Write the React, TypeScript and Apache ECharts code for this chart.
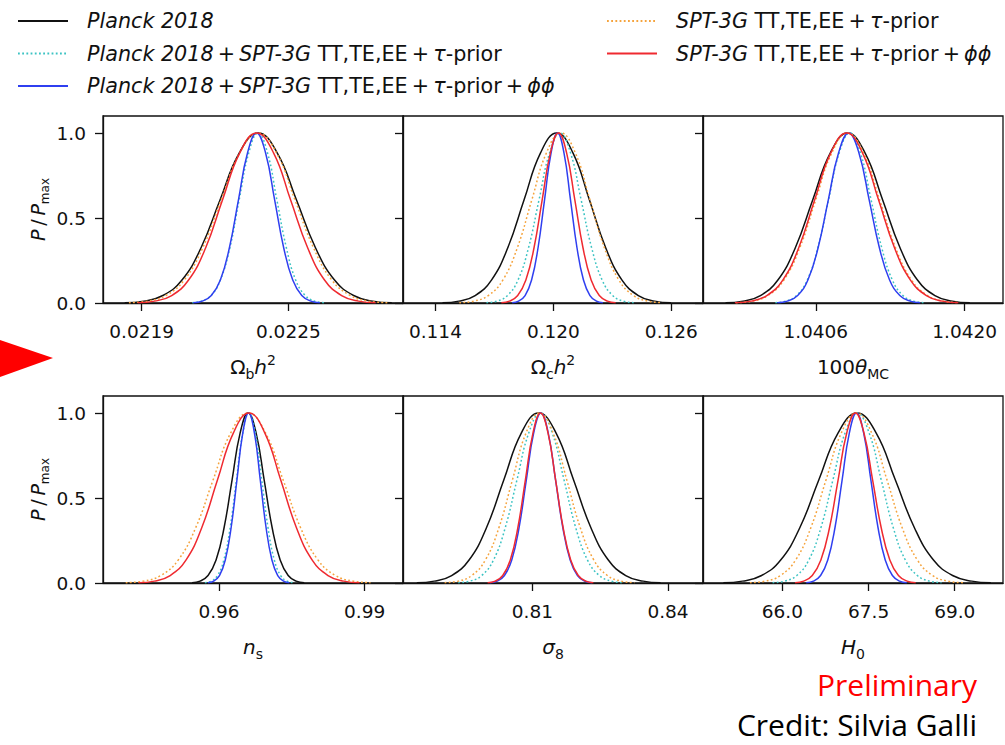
import React, { useEffect, useRef } from "react";
import * as echarts from "echarts";

// Heights (P/Pmax) at which each curve's x positions were read, left tail -> peak -> right tail
const levels = [0.002, 0.011, 0.044, 0.135, 0.325, 0.607, 0.882, 1, 0.882, 0.607, 0.325, 0.135, 0.044, 0.011, 0.002];

const seriesNames = [
  "Planck 2018",
  "Planck 2018+SPT-3G TT,TE,EE+τ-prior",
  "Planck 2018+SPT-3G TT,TE,EE+τ-prior+ϕϕ",
  "SPT-3G TT,TE,EE+τ-prior",
  "SPT-3G TT,TE,EE+τ-prior+ϕϕ",
];

// Ω_b h^2
const obPlanck = [0.021831, 0.021909, 0.021987, 0.022065, 0.022143, 0.022221, 0.022299, 0.022377, 0.022455, 0.022533, 0.022611, 0.022689, 0.022767, 0.022845, 0.022923];
const obP18Spt = [0.022107, 0.022145, 0.022184, 0.022222, 0.022261, 0.022299, 0.022338, 0.022376, 0.022415, 0.022453, 0.022492, 0.02253, 0.022569, 0.022607, 0.022646];
const obP18SptPP = [0.022111, 0.022148, 0.022185, 0.022222, 0.022259, 0.022296, 0.022333, 0.02237, 0.022407, 0.022444, 0.022481, 0.022518, 0.022555, 0.022592, 0.022629];
const obSpt = [0.021848, 0.021923, 0.021999, 0.022074, 0.02215, 0.022225, 0.022301, 0.022376, 0.022452, 0.022527, 0.022603, 0.022678, 0.022754, 0.022829, 0.022905];
const obSptPP = [0.021884, 0.021953, 0.022023, 0.022092, 0.022162, 0.022231, 0.022301, 0.02237, 0.02244, 0.022509, 0.022579, 0.022648, 0.022718, 0.022787, 0.022857];
const obRange = [0.021742, 0.022969];
const obTicks = [0.0219, 0.0225];

// Ω_c h^2
const ocPlanck = [0.11436, 0.11519, 0.11602, 0.11685, 0.11768, 0.11851, 0.11934, 0.12017, 0.121, 0.12183, 0.12266, 0.12349, 0.12432, 0.12515, 0.12598];
const ocP18Spt = [0.116595, 0.11713, 0.117665, 0.1182, 0.118735, 0.11927, 0.119805, 0.12034, 0.120875, 0.12141, 0.121945, 0.12248, 0.123015, 0.12355, 0.124085];
const ocP18SptPP = [0.1179, 0.11823, 0.11856, 0.11889, 0.11922, 0.11955, 0.11988, 0.12021, 0.12054, 0.12087, 0.1212, 0.12153, 0.12186, 0.12219, 0.12252];
const ocSpt = [0.115214, 0.115952, 0.11669, 0.117428, 0.118166, 0.118904, 0.119642, 0.12038, 0.121118, 0.121856, 0.122594, 0.123332, 0.12407, 0.124808, 0.125546];
const ocSptPP = [0.117355, 0.11777, 0.118185, 0.1186, 0.119015, 0.11943, 0.119845, 0.12026, 0.120675, 0.12109, 0.121505, 0.12192, 0.122335, 0.12275, 0.123165];
const ocRange = [0.11235, 0.12761];
const ocTicks = [0.114, 0.12, 0.126];

// 100 θ_MC
const thPlanck = [1.039752, 1.039916, 1.04008, 1.040244, 1.040408, 1.040572, 1.040736, 1.0409, 1.041064, 1.041228, 1.041392, 1.041556, 1.04172, 1.041884, 1.042048];
const thP18Spt = [1.04022, 1.04032, 1.04042, 1.04052, 1.04062, 1.04072, 1.04082, 1.04092, 1.04102, 1.04112, 1.04122, 1.04132, 1.04142, 1.04152, 1.04162];
const thP18SptPP = [1.040238, 1.040334, 1.04043, 1.040526, 1.040622, 1.040718, 1.040814, 1.04091, 1.041006, 1.041102, 1.041198, 1.041294, 1.04139, 1.041486, 1.041582];
const thSpt = [1.03985, 1.04, 1.04015, 1.0403, 1.04045, 1.0406, 1.04075, 1.0409, 1.04105, 1.0412, 1.04135, 1.0415, 1.04165, 1.0418, 1.04195];
const thSptPP = [1.03984, 1.03999, 1.04014, 1.04029, 1.04044, 1.04059, 1.04074, 1.04089, 1.04104, 1.04119, 1.04134, 1.04149, 1.04164, 1.04179, 1.04194];
const thRange = [1.03954, 1.04236];
const thTicks = [1.0406, 1.042];

// n_s
const nsPlanck = [0.95445, 0.9561, 0.95775, 0.9594, 0.96105, 0.9627, 0.96435, 0.966, 0.96765, 0.9693, 0.97095, 0.9726, 0.97425, 0.9759, 0.97755];
const nsP18Spt = [0.9571, 0.9584, 0.9597, 0.961, 0.9623, 0.9636, 0.9649, 0.9662, 0.9675, 0.9688, 0.9701, 0.9714, 0.9727, 0.974, 0.9753];
const nsP18SptPP = [0.9577, 0.9589, 0.9601, 0.9613, 0.9625, 0.9637, 0.9649, 0.9661, 0.9673, 0.9685, 0.9697, 0.9709, 0.9721, 0.9733, 0.9745];
const nsSpt = [0.9408, 0.9444, 0.948, 0.9516, 0.9552, 0.9588, 0.9624, 0.966, 0.9696, 0.9732, 0.9768, 0.9804, 0.984, 0.9876, 0.9912];
const nsSptPP = [0.94345, 0.9467, 0.94995, 0.9532, 0.95645, 0.9597, 0.96295, 0.9662, 0.96945, 0.9727, 0.97595, 0.9792, 0.98245, 0.9857, 0.98895];
const nsRange = [0.93612, 0.99789];
const nsTicks = [0.96, 0.99];

// σ_8
const s8Planck = [0.78445, 0.7883, 0.79215, 0.796, 0.79985, 0.8037, 0.80755, 0.8114, 0.81525, 0.8191, 0.82295, 0.8268, 0.83065, 0.8345, 0.83835];
const s8P18Spt = [0.7936, 0.7962, 0.7988, 0.8014, 0.804, 0.8066, 0.8092, 0.8118, 0.8144, 0.817, 0.8196, 0.8222, 0.8248, 0.8274, 0.83];
const s8P18SptPP = [0.800595, 0.80221, 0.803825, 0.80544, 0.807055, 0.80867, 0.810285, 0.8119, 0.813515, 0.81513, 0.816745, 0.81836, 0.819975, 0.82159, 0.823205];
const s8Spt = [0.7906, 0.7936, 0.7966, 0.7996, 0.8026, 0.8056, 0.8086, 0.8116, 0.8146, 0.8176, 0.8206, 0.8236, 0.8266, 0.8296, 0.8326];
const s8SptPP = [0.80011, 0.80178, 0.80345, 0.80512, 0.80679, 0.80846, 0.81013, 0.8118, 0.81347, 0.81514, 0.81681, 0.81848, 0.82015, 0.82182, 0.82349];
const s8Range = [0.78139, 0.84774];
const s8Ticks = [0.81, 0.84];

// H_0
const h0Planck = [64.973, 65.305, 65.638, 65.97, 66.303, 66.635, 66.968, 67.3, 67.633, 67.965, 68.298, 68.63, 68.963, 69.295, 69.628];
const h0P18Spt = [65.83, 66.04, 66.25, 66.46, 66.67, 66.88, 67.09, 67.3, 67.51, 67.72, 67.93, 68.14, 68.35, 68.56, 68.77];
const h0P18SptPP = [66.415, 66.54, 66.665, 66.79, 66.915, 67.04, 67.165, 67.29, 67.415, 67.54, 67.665, 67.79, 67.915, 68.04, 68.165];
const h0Spt = [65.435, 65.7, 65.965, 66.23, 66.495, 66.76, 67.025, 67.29, 67.555, 67.82, 68.085, 68.35, 68.615, 68.88, 69.145];
const h0SptPP = [66.22, 66.37, 66.52, 66.67, 66.82, 66.97, 67.12, 67.27, 67.42, 67.57, 67.72, 67.87, 68.02, 68.17, 68.32];
const h0Range = [64.618, 69.84];
const h0Ticks = [66.0, 67.5, 69.0];

const yTicks = [0, 0.5, 1.0];

const panels = [
  { curves: [obPlanck, obP18Spt, obP18SptPP, obSpt, obSptPP], range: obRange, ticks: obTicks, dec: 4, label: "{n|Ω}{sb|b}{i|h}{sp|2}" },
  { curves: [ocPlanck, ocP18Spt, ocP18SptPP, ocSpt, ocSptPP], range: ocRange, ticks: ocTicks, dec: 3, label: "{n|Ω}{sb|c}{i|h}{sp|2}" },
  { curves: [thPlanck, thP18Spt, thP18SptPP, thSpt, thSptPP], range: thRange, ticks: thTicks, dec: 4, label: "{n|100}{i|θ}{sb|MC}" },
  { curves: [nsPlanck, nsP18Spt, nsP18SptPP, nsSpt, nsSptPP], range: nsRange, ticks: nsTicks, dec: 2, label: "{i|n}{sb|s}" },
  { curves: [s8Planck, s8P18Spt, s8P18SptPP, s8Spt, s8SptPP], range: s8Range, ticks: s8Ticks, dec: 2, label: "{i|σ}{sb|8}" },
  { curves: [h0Planck, h0P18Spt, h0P18SptPP, h0Spt, h0SptPP], range: h0Range, ticks: h0Ticks, dec: 1, label: "{i|H}{sb|0}" },
];

const FONT = "DejaVu Sans";
const COLORS = ["#111111", "#3cc3c3", "#2f3ff0", "#f5a33c", "#ef2a30"];
const DOTTED = [false, true, false, true, false];

const P = "\u2009+\u2009";
const legendRich: Record<string, string> = {
  [seriesNames[0]]: "{i|Planck 2018}",
  [seriesNames[1]]: `{i|Planck 2018}{n|${P}}{i|SPT-3G}{n| TT,TE,EE${P}}{i|τ}{n|-prior}`,
  [seriesNames[2]]: `{i|Planck 2018}{n|${P}}{i|SPT-3G}{n| TT,TE,EE${P}}{i|τ}{n|-prior${P}}{i|ϕϕ}`,
  [seriesNames[3]]: `{i|SPT-3G}{n| TT,TE,EE${P}}{i|τ}{n|-prior}`,
  [seriesNames[4]]: `{i|SPT-3G}{n| TT,TE,EE${P}}{i|τ}{n|-prior${P}}{i|ϕϕ}`,
};

export default function App() {
  const ref = useRef<HTMLDivElement>(null);
  useEffect(() => {
    if (!ref.current) return;
    const chart = echarts.init(ref.current, undefined, { renderer: "svg" });

    const grids: any[] = [];
    const xAxes: any[] = [];
    const yAxes: any[] = [];
    const series: any[] = [];

    const mathRich = {
      n: { fontFamily: FONT, fontSize: 20, color: "#111", lineHeight: 28 },
      i: { fontFamily: FONT, fontSize: 20, fontStyle: "italic", color: "#111", lineHeight: 28 },
      sb: { fontFamily: FONT, fontSize: 14, color: "#111", verticalAlign: "bottom" },
      sp: { fontFamily: FONT, fontSize: 14, color: "#111", verticalAlign: "top" },
    };

    panels.forEach((p, idx) => {
      const col = idx % 3;
      const row = Math.floor(idx / 3);
      grids.push({
        left: 103 + col * 300,
        top: row === 0 ? 116 : 396,
        width: 300,
        height: 187,
        show: true,
        borderColor: "#111",
        borderWidth: 1.3,
        backgroundColor: "transparent",
      });
      xAxes.push({
        type: "value",
        gridIndex: idx,
        min: p.range[0],
        max: p.range[1],
        splitLine: { show: false },
        axisLine: { show: true, onZero: false, lineStyle: { color: "#111", width: 1.3 } },
        axisTick: { show: true, inside: false, length: 8, customValues: p.ticks, lineStyle: { color: "#111", width: 1.3 } },
        axisLabel: {
          customValues: p.ticks,
          formatter: (v: number) => v.toFixed(p.dec),
          fontFamily: FONT,
          fontSize: 18.5,
          color: "#111",
          margin: 19,
        },
        name: p.label,
        nameLocation: "middle",
        nameGap: 50,
        nameTextStyle: { rich: mathRich },
      });
      yAxes.push({
        type: "value",
        gridIndex: idx,
        min: 0,
        max: 1.1,
        splitLine: { show: false },
        axisLine: { show: true, onZero: false, lineStyle: { color: "#111", width: 1.3 } },
        axisTick: { show: true, inside: false, length: 8, customValues: yTicks, lineStyle: { color: "#111", width: 1.3 } },
        axisLabel: {
          show: col === 0,
          customValues: yTicks,
          formatter: (v: number) => v.toFixed(1),
          fontFamily: FONT,
          fontSize: 18.5,
          color: "#111",
          margin: 17,
        },
        name: col === 0 ? "{i|P}{n|\u2009/\u2009}{i|P}{s|max}" : "",
        nameLocation: "middle",
        nameRotate: 90,
        nameGap: 52,
        nameTextStyle: {
          rich: {
            n: { fontFamily: FONT, fontSize: 19, color: "#111", lineHeight: 26 },
            i: { fontFamily: FONT, fontSize: 19, fontStyle: "italic", color: "#111", lineHeight: 26 },
            s: { fontFamily: FONT, fontSize: 12, color: "#111", verticalAlign: "bottom" },
          },
        },
      });
      p.curves.forEach((xs, j) => {
        series.push({
          type: "line",
          name: seriesNames[j],
          xAxisIndex: idx,
          yAxisIndex: idx,
          data: xs.map((x, k) => [x, levels[k]]),
          smooth: 0.45,
          symbol: "none",
          showSymbol: false,
          silent: true,
          clip: true,
          z: 2 + j,
          itemStyle: { color: COLORS[j] },
          lineStyle: { color: COLORS[j], width: 1.5, type: DOTTED[j] ? [1.8, 2.4] : "solid" },
        });
      });
    });

    const legendBase = {
      orient: "vertical",
      top: 9,
      padding: 0,
      itemWidth: 50,
      itemHeight: 14,
      itemGap: 8.5,
      selectedMode: false,
      itemStyle: { opacity: 0, borderWidth: 0 },
      formatter: (name: string) => legendRich[name] || name,
      textStyle: {
        padding: [0, 0, 0, 14],
        lineHeight: 24,
        rich: {
          i: { fontFamily: FONT, fontSize: 20.7, fontStyle: "italic", color: "#111" },
          n: { fontFamily: FONT, fontSize: 20.7, color: "#111" },
        },
      },
    };

    chart.setOption({
      animation: false,
      backgroundColor: "#ffffff",
      grid: grids,
      xAxis: xAxes,
      yAxis: yAxes,
      series,
      legend: [
        { ...legendBase, left: 17, data: seriesNames.slice(0, 3) },
        { ...legendBase, left: 606, data: seriesNames.slice(3) },
      ],
      graphic: [
        {
          type: "polygon",
          shape: { points: [[0, 340], [53, 358], [0, 377]] },
          style: { fill: "#ff0000" },
        },
        {
          type: "text",
          x: 977,
          y: 684,
          style: { text: "Preliminary", fill: "#ff0000", font: "30px 'Open Sans'", textAlign: "right", textVerticalAlign: "middle", verticalAlign: "middle" },
        },
        {
          type: "text",
          x: 977,
          y: 724,
          style: { text: "Credit: Silvia Galli", fill: "#000000", font: "30px 'Open Sans'", textAlign: "right", textVerticalAlign: "middle", verticalAlign: "middle" },
        },
      ],
    });
    return () => chart.dispose();
  }, []);
  return <div ref={ref} style={{ position: "absolute", left: 0, top: 0, width: 1005, height: 745 }} />;
}
